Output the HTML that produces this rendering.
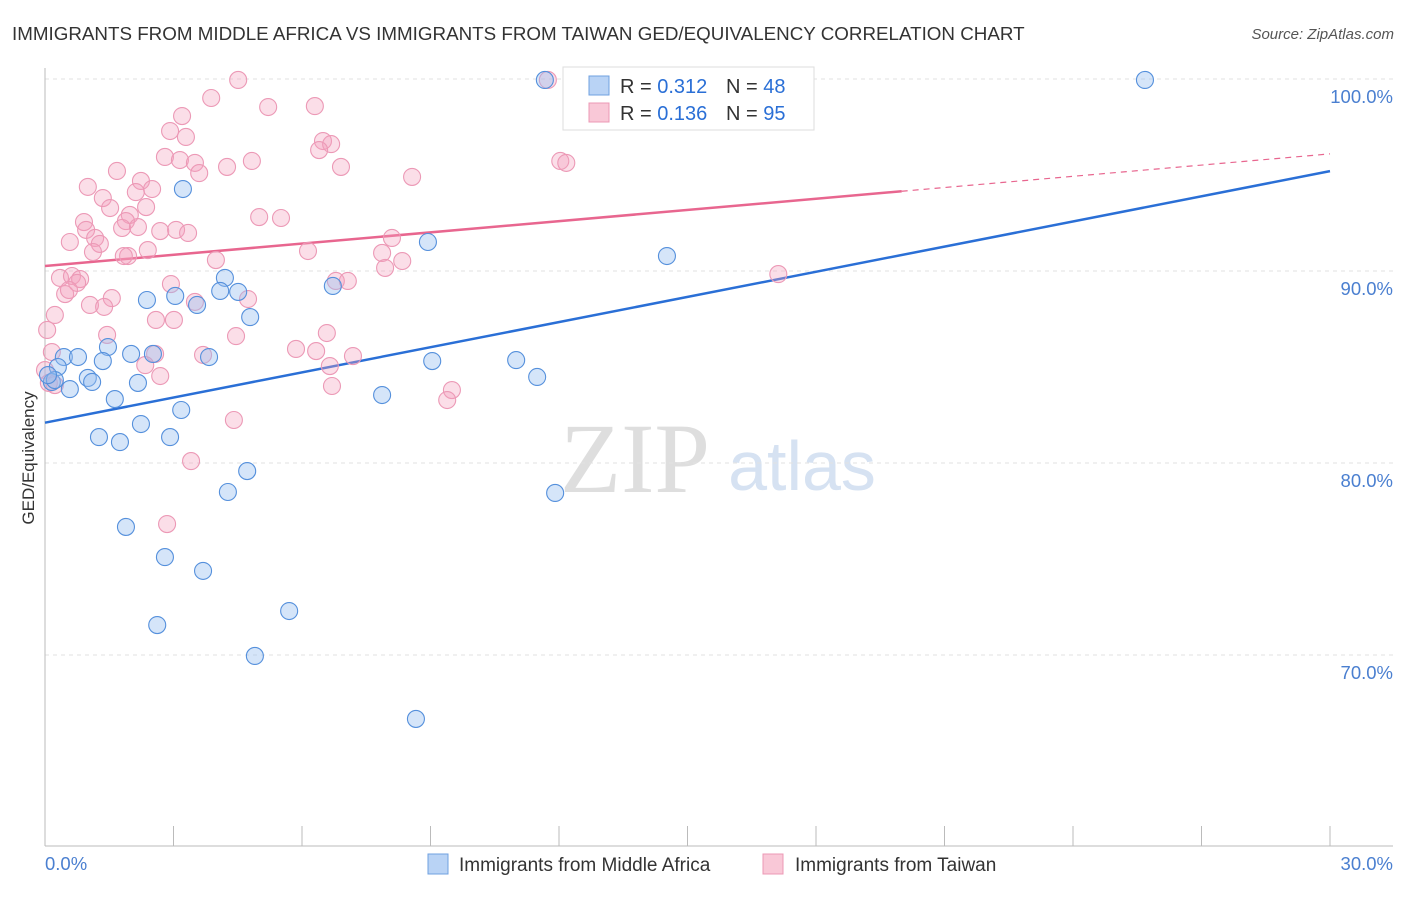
<!DOCTYPE html>
<html><head><meta charset="utf-8"><style>
body{margin:0;background:#fff;font-family:"Liberation Sans",sans-serif;}
</style></head><body>
<svg id="chart" width="1406" height="892" font-family="Liberation Sans, sans-serif">
<text x="12" y="40" font-size="18.8" fill="#333">IMMIGRANTS FROM MIDDLE AFRICA VS IMMIGRANTS FROM TAIWAN GED/EQUIVALENCY CORRELATION CHART</text>
<text x="1394" y="39" font-size="15" fill="#555" text-anchor="end" font-style="italic">Source: ZipAtlas.com</text>
<text x="635" y="492" font-size="100" fill="#dedede" style="font-family:'Liberation Serif',serif" text-anchor="middle">ZIP</text>
<text x="802" y="490" font-size="70" fill="#d6e2f2" text-anchor="middle">atlas</text>
<text transform="translate(34,458) rotate(-90)" font-size="17" fill="#333" text-anchor="middle">GED/Equivalency</text>
<g id="grid"></g><g id="axes"></g><g id="lines"></g><g id="pts"></g>
<g>
<rect x="563" y="67" width="251" height="63" fill="#fff" stroke="#ddd"/>
<rect x="589" y="76" width="20" height="19" fill="#b9d3f5" stroke="#6fa0e0"/>
<text x="620" y="93" font-size="20" fill="#333">R = <tspan fill="#2a6fd6">0.312</tspan></text>
<text x="726" y="93" font-size="20" fill="#333">N = <tspan fill="#2a6fd6">48</tspan></text>
<rect x="589" y="103" width="20" height="19" fill="#f9c8d7" stroke="#ec98b4"/>
<text x="620" y="120" font-size="20" fill="#333">R = <tspan fill="#2a6fd6">0.136</tspan></text>
<text x="726" y="120" font-size="20" fill="#333">N = <tspan fill="#2a6fd6">95</tspan></text>
</g>
<g>
<rect x="428" y="854" width="20" height="20" fill="#b9d3f5" stroke="#6fa0e0"/>
<text x="459" y="871" font-size="19" fill="#333">Immigrants from Middle Africa</text>
<rect x="763" y="854" width="20" height="20" fill="#f9c8d7" stroke="#ec98b4"/>
<text x="795" y="871" font-size="19" fill="#333">Immigrants from Taiwan</text>
</g>
</svg>
<script>
const yTicks=[100,90,80,70];
const yTickLabels=["100.0%","90.0%","80.0%","70.0%"];
const xTickLabels=["0.0%","30.0%"];
const blueX=[11.67,25.68,3.22,8.94,14.52,4.20,6.72,4.51,3.04,4.09,2.38,3.55,4.79,1.47,0.44,0.77,1.35,2.01,2.52,3.83,9.04,11.00,0.30,1.00,1.10,2.17,11.49,0.16,0.58,7.87,1.63,3.18,2.24,1.26,2.92,1.75,4.72,4.27,11.91,1.89,2.80,3.69,5.70,2.62,4.90,8.66,0.23,0.07];
const blueY=[99.95,99.95,94.27,91.51,90.78,89.64,89.22,88.91,88.70,88.96,88.49,88.23,87.60,86.04,85.52,85.52,85.31,85.68,85.68,85.52,85.31,85.36,85.00,84.43,84.22,84.17,84.48,84.22,83.85,83.54,83.33,82.76,82.03,81.35,81.35,81.09,79.58,78.49,78.44,76.67,75.10,74.38,72.29,71.56,69.95,66.67,84.32,84.58];
const pinkX=[4.51,11.74,3.88,5.21,6.30,3.20,2.92,3.29,6.49,6.68,6.40,2.80,3.15,3.50,3.60,4.25,4.83,6.91,12.03,12.17,8.57,1.68,1.00,2.24,2.50,2.12,1.35,2.36,1.52,5.00,5.51,0.91,1.98,1.89,2.69,3.06,3.34,0.96,1.80,2.17,0.58,1.17,1.28,2.40,1.12,6.14,7.87,8.10,8.34,1.94,1.84,3.99,7.94,0.35,0.63,0.82,0.75,2.94,6.79,7.07,17.12,0.47,0.56,1.56,1.05,1.38,3.50,4.74,0.23,0.05,2.59,3.01,4.46,1.45,6.58,5.86,6.33,7.19,3.69,2.57,0.16,0.00,2.34,2.69,6.70,9.50,9.39,0.23,4.41,3.41,2.85,0.09,6.65];
const pinkY=[99.95,99.95,99.01,98.54,98.59,98.07,97.29,96.98,96.77,96.61,96.30,95.94,95.78,95.63,95.10,95.42,95.73,95.42,95.73,95.63,94.90,95.21,94.38,94.69,94.27,94.11,93.80,93.33,93.28,92.81,92.76,92.55,92.92,92.60,92.08,92.14,91.98,92.14,92.24,92.29,91.51,91.72,91.41,91.09,90.99,91.04,90.94,91.72,90.52,90.78,90.78,90.57,90.16,89.64,89.74,89.58,89.38,89.32,89.48,89.48,89.84,88.80,89.01,88.59,88.23,88.13,88.39,88.54,87.71,86.93,87.45,87.45,86.61,86.67,86.77,85.94,85.83,85.57,85.63,85.68,85.78,84.84,85.10,84.53,84.01,83.80,83.28,84.06,82.24,80.10,76.82,84.17,85.05];
const blueTrend=[82.1,95.2];
const pinkTrend=[90.26,96.1];
const pinkSolidEnd=20.0;
const NS="http://www.w3.org/2000/svg";
const X=v=>45+v/30*1285, Y=v=>79+(100-v)*19.2;
function mk(tag,attrs,parent){const e=document.createElementNS(NS,tag);for(const k in attrs)e.setAttribute(k,attrs[k]);document.getElementById(parent).appendChild(e);return e;}
yTicks.forEach((t,i)=>{
 const l=mk('line',{x1:45,x2:1393,y1:Y(t),y2:Y(t),stroke:'#e2e2e2','stroke-dasharray':'4,4'},'grid');
 
 
 const tx=mk('text',{x:1393,y:Y(t)+24,'font-size':18.5,fill:'#4a7fd0','text-anchor':'end'},'grid');
 tx.textContent=yTickLabels[i];
 
 
});
let a=mk('line',{x1:45,x2:45,y1:68,y2:846,stroke:'#bbb'},'axes');


a=mk('line',{x1:45,x2:1393,y1:846,y2:846,stroke:'#bbb'},'axes');


for(let i=1;i<=10;i++){const t=mk('line',{x1:X(i*3),x2:X(i*3),y1:826,y2:846,stroke:'#bbb'},'axes');
 
 }
[[0,'start',45],[30,'end',1393]].forEach((d,i)=>{const t=mk('text',{x:d[2],y:870,'font-size':18.5,fill:'#4a7fd0','text-anchor':d[1]},'axes');t.textContent=xTickLabels[i];
 
 });
const pt=(s,e,x)=>s+(e-s)*x/30;
let ln=mk('line',{x1:X(0),y1:Y(blueTrend[0]),x2:X(30),y2:Y(blueTrend[1]),stroke:'#2a6fd6','stroke-width':2.5},'lines');


ln=mk('line',{x1:X(0),y1:Y(pinkTrend[0]),x2:X(pinkSolidEnd),y2:Y(pt(pinkTrend[0],pinkTrend[1],pinkSolidEnd)),stroke:'#e8668f','stroke-width':2.5},'lines');


ln=mk('line',{x1:X(pinkSolidEnd),y1:Y(pt(pinkTrend[0],pinkTrend[1],pinkSolidEnd)),x2:X(30),y2:Y(pinkTrend[1]),stroke:'#e8668f','stroke-width':1.2,'stroke-dasharray':'6,5'},'lines');


pinkX.forEach((x,i)=>{const c=mk('circle',{cx:X(x),cy:Y(pinkY[i]),r:8.5,fill:'rgba(244,160,188,0.35)',stroke:'#ec99b6','stroke-width':1.1},'pts');
 
 });
blueX.forEach((x,i)=>{const c=mk('circle',{cx:X(x),cy:Y(blueY[i]),r:8.5,fill:'rgba(150,190,240,0.4)',stroke:'#5590dc','stroke-width':1.1},'pts');
 
 });
</script>
</body></html>
